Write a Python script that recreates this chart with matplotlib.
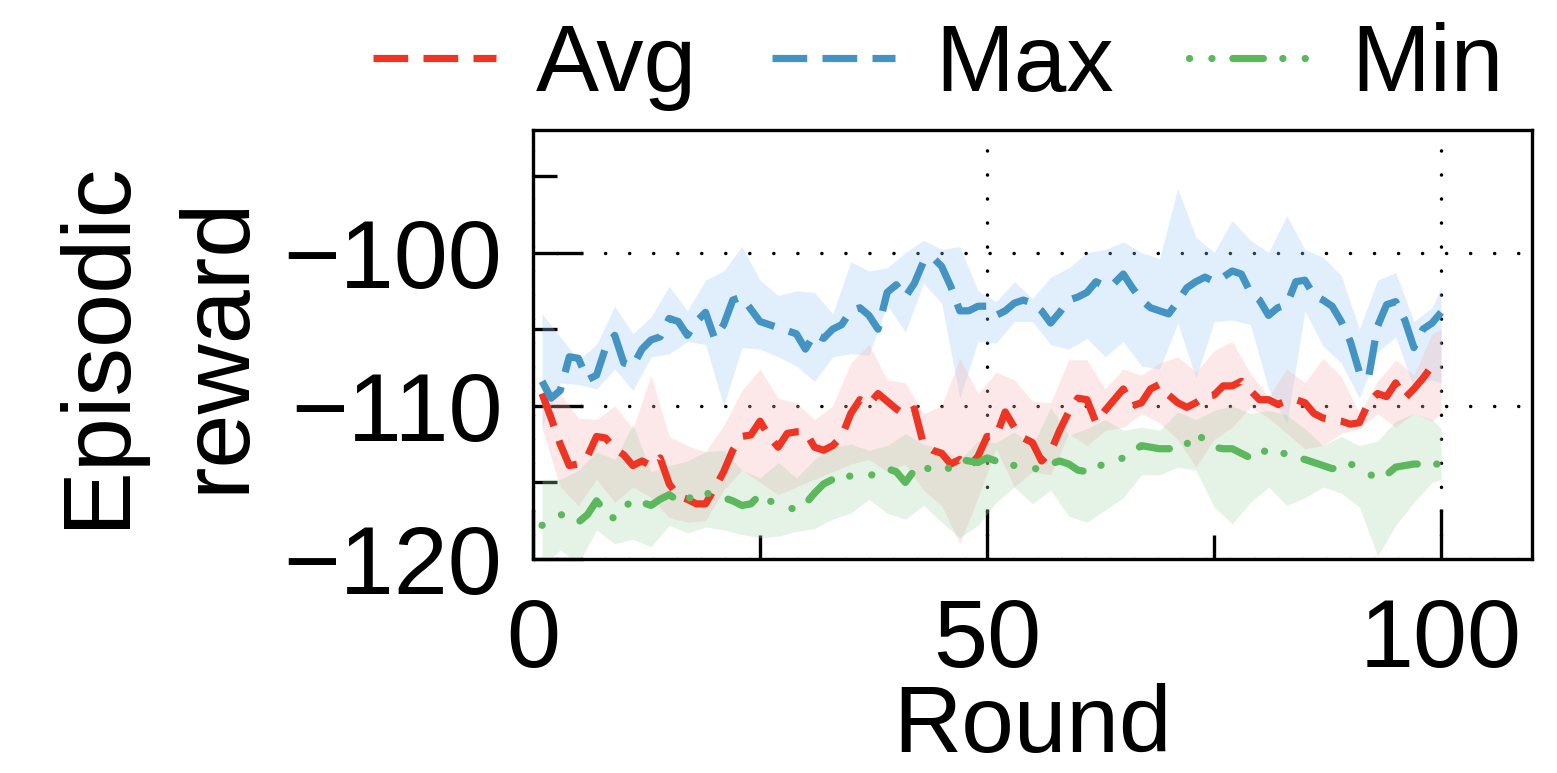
import numpy as np
import matplotlib
matplotlib.use("Agg")
import matplotlib.pyplot as plt

plt.rcParams["font.family"] = ["Liberation Sans", "DejaVu Sans"]
plt.rcParams["lines.scale_dashes"] = False

# Récompense épisodique par round (moyenne, max, min sur les agents).
rounds = np.arange(1, 101)

avg_reward = [
    -109.2, -110.8, -112.5, -113.9, -113.8, -113.3, -112.0, -112.1, -112.8, -113.2,
    -113.9, -113.6, -113.9, -113.4, -115.1, -115.9, -116.1, -116.4, -116.4, -115.4,
    -114.3, -112.9, -112.0, -111.9, -111.0, -112.0, -112.7, -111.8, -111.7, -111.7,
    -112.7, -112.9, -112.6, -112.0, -110.5, -109.6, -109.9, -109.2, -109.7, -110.2,
    -110.6, -110.2, -112.5, -112.9, -113.1, -113.8, -113.5, -114.0, -113.3, -112.0,
    -112.0, -110.4, -111.4, -112.1, -112.4, -113.6, -113.0, -111.6, -110.4, -109.5,
    -109.6, -111.1, -110.3, -109.6, -108.9, -110.0, -109.8, -108.9, -108.6, -109.3,
    -109.8, -110.1, -109.8, -109.4, -109.3, -108.7, -108.7, -108.4, -109.0, -109.6,
    -109.6, -109.9, -109.7, -109.6, -109.8, -110.5, -110.8, -110.9, -111.0, -111.2,
    -111.1, -109.8, -109.2, -109.4, -108.5, -109.5, -108.9, -108.2, -107.4, -107.3,
]

max_reward = [
    -108.4, -109.5, -109.0, -106.8, -106.9, -108.3, -108.0, -106.2, -105.4, -107.2,
    -107.4, -106.3, -105.7, -105.5, -104.3, -104.5, -105.4, -104.5, -103.9, -105.6,
    -104.7, -103.1, -102.9, -103.7, -104.5, -104.7, -104.9, -105.1, -105.3, -106.3,
    -105.3, -105.6, -105.0, -104.7, -103.8, -103.6, -104.1, -105.0, -102.6, -102.1,
    -102.9, -102.0, -100.6, -100.3, -100.9, -102.2, -103.8, -103.8, -103.5, -103.5,
    -104.1, -103.8, -103.3, -103.1, -103.3, -103.8, -104.6, -103.9, -103.1, -102.9,
    -102.6, -101.9, -102.2, -102.0, -101.4, -102.3, -103.1, -103.6, -103.8, -104.0,
    -103.2, -102.3, -101.9, -101.6, -101.9, -101.6, -101.2, -101.4, -102.6, -103.1,
    -104.1, -103.6, -103.4, -101.9, -101.8, -102.8, -103.1, -103.5, -104.5, -105.8,
    -107.8, -108.2, -104.8, -103.4, -103.2, -104.4, -106.2, -105.0, -104.6, -103.9,
]

min_reward = [
    -117.8, -117.5, -117.1, -117.2, -117.6, -117.1, -116.2, -116.9, -117.4, -116.7,
    -116.1, -116.3, -116.5, -116.1, -115.8, -116.2, -116.2, -115.5, -115.7, -115.8,
    -116.0, -116.2, -116.5, -116.4, -115.8, -116.2, -116.4, -116.6, -116.8, -116.4,
    -115.7, -115.1, -114.8, -114.5, -114.6, -114.6, -114.6, -114.3, -114.1, -114.3,
    -115.0, -114.2, -113.9, -114.3, -114.3, -114.0, -113.5, -113.6, -113.7, -113.4,
    -113.6, -113.7, -113.9, -114.1, -114.1, -114.1, -113.8, -113.6, -113.8, -114.2,
    -114.3, -114.1, -113.7, -113.6, -113.4, -113.0, -112.6, -112.7, -112.8, -112.8,
    -112.8, -112.5, -111.7, -112.3, -112.7, -112.8, -112.8, -113.1, -113.4, -113.3,
    -112.7, -112.9, -113.2, -113.4, -113.5, -113.7, -113.9, -114.1, -114.0, -113.8,
    -114.0, -114.4, -114.8, -114.5, -114.0, -113.9, -113.8, -113.8, -113.8, -113.8,
]

# Enveloppes (dispersion entre les graines), échantillonnées tous les 2 rounds.
band_rounds = list(range(1, 100, 2)) + [100]

max_hi = [
    -104.0, -105.5, -107.0, -106.0, -103.5, -105.3, -104.2, -102.2, -103.8, -101.8,
    -101.2, -99.6, -101.8, -102.8, -102.5, -102.6, -104.0, -100.6, -101.2, -101.0,
    -100.0, -99.2, -99.8, -99.6, -102.5, -103.2, -101.9, -103.0, -101.6, -101.0,
    -100.0, -99.8, -99.3, -100.0, -100.4, -95.8, -99.0, -100.0, -97.9, -99.2,
    -100.0, -97.6, -99.8, -100.3, -101.5, -105.0, -101.8, -101.3, -104.5, -103.6,
    -102.3,
]
max_lo = [
    -111.4, -108.5, -108.6, -108.9, -107.6, -109.0, -106.8, -106.6, -105.8, -106.0,
    -110.0, -106.2, -106.3, -106.8, -107.4, -108.4, -106.8, -106.6, -106.7, -103.4,
    -105.2, -102.0, -103.3, -109.5, -105.8, -105.9, -104.5, -104.5, -106.0, -106.3,
    -105.6, -106.8, -105.8, -107.4, -107.6, -104.6, -108.2, -104.5, -104.4, -104.7,
    -108.9, -111.2, -103.8, -106.1, -107.2, -109.5, -106.5, -105.5, -108.8, -108.3,
    -108.5,
]
avg_hi = [
    -108.7, -109.2, -110.8, -110.9, -110.0, -111.5, -108.0, -112.0, -112.6, -113.0,
    -111.3, -109.0, -107.6, -109.5, -109.8, -110.9, -110.0, -107.2, -106.0, -108.3,
    -108.5, -110.5, -110.0, -106.9, -109.2, -107.8, -108.3, -109.7, -109.8, -107.0,
    -107.0, -108.9, -107.6, -108.0, -107.2, -106.8, -107.8, -106.4, -105.8, -107.9,
    -109.4, -107.6, -108.5, -106.9, -108.1, -110.5, -108.4, -107.0, -108.0, -105.3,
    -105.0,
]
avg_lo = [
    -111.5, -115.3, -116.5, -114.8, -116.3, -115.3, -116.0, -117.3, -117.6, -117.5,
    -115.5, -114.2, -115.0, -115.8, -115.3, -114.8, -114.3, -113.8, -113.5, -114.3,
    -113.8, -115.5, -116.5, -119.0, -116.0, -112.8, -115.3, -114.3, -114.5, -111.8,
    -112.6, -111.6, -111.4, -110.5, -111.1, -112.2, -114.0, -112.2, -111.4, -110.1,
    -110.8, -111.8, -112.8, -112.6, -111.8, -111.5, -110.5, -111.4, -110.5, -111.0,
    -110.5,
]
min_hi = [
    -114.8, -114.8, -114.2, -113.0, -113.5, -111.2, -114.3, -113.9, -113.6, -113.0,
    -112.9, -114.2, -114.7, -113.7, -114.7, -113.5, -112.7, -112.5, -112.9, -112.6,
    -111.8, -112.5, -112.8, -113.5, -112.3, -112.4, -111.7, -112.6, -110.1, -111.9,
    -111.5, -110.9, -111.6, -111.4, -111.6, -110.4, -110.9, -110.3, -110.0, -110.5,
    -110.3, -110.6, -111.5, -112.6, -112.0, -112.6, -112.3, -111.0, -110.5, -110.9,
    -111.5,
]
min_lo = [
    -120.5, -119.4, -120.3, -118.1, -119.0, -118.7, -119.2, -117.8, -118.3, -117.9,
    -118.1, -118.4, -118.6, -118.5, -118.2, -118.0, -117.4, -117.0, -116.1, -117.0,
    -117.4, -116.5, -117.6, -118.6, -117.8, -116.3, -115.3, -116.4, -115.5, -117.2,
    -117.6, -116.8, -116.0, -114.5, -114.5, -114.0, -114.2, -116.6, -117.7, -116.3,
    -115.3, -116.5, -116.0, -115.3, -115.7, -116.6, -119.8, -117.8, -116.3, -115.0,
    -114.8,
]

ROUGE = "#ee3524"
BLEU = "#4393c3"
VERT = "#5cb85c"

fig = plt.figure(figsize=(15.57, 7.73), dpi=100)
ax = fig.add_axes([0.3423, 0.2768, 0.6416, 0.555])
ax.set_axisbelow(True)

# Enveloppes translucides
ax.fill_between(band_rounds, max_lo, max_hi, color="#9bcaf5", alpha=0.3, lw=0, zorder=1)
ax.fill_between(band_rounds, avg_lo, avg_hi, color="#f8b6b6", alpha=0.3, lw=0, zorder=1)
ax.fill_between(band_rounds, min_lo, min_hi, color="#acd4af", alpha=0.3, lw=0, zorder=1)

# Courbes
ax.plot(rounds, avg_reward, color=ROUGE, lw=5.2, dashes=(25, 11), label="Avg", zorder=3)
ax.plot(rounds, max_reward, color=BLEU, lw=5.2, dashes=(25, 11), label="Max", zorder=3)
ax.plot(rounds, min_reward, color=VERT, lw=5.2, dashes=(0.1, 16, 0.1, 15, 22, 14),
        dash_capstyle="round", label="Min", zorder=3)

ax.set_xlim(0, 110)
ax.set_ylim(-120, -92)
ax.set_xticks([0, 50, 100])
ax.set_xticks([25, 75], minor=True)
ax.set_yticks([-120, -110, -100])
ax.set_yticks([-115, -105, -95], minor=True)
ax.tick_params(which="both", direction="in", top=False, right=False, width=2.4)
ax.tick_params(axis="y", which="major", length=36, labelsize=70, pad=22)
ax.tick_params(axis="x", which="major", length=36, labelsize=70, pad=27)
ax.tick_params(which="minor", length=17)
for spine in ax.spines.values():
    spine.set_linewidth(2.4)

ax.grid(which="major", color="black", linewidth=2.5, linestyle=(0, (0.1, 17.2)),
        dash_capstyle="round")

ax.set_xlabel("Round", fontsize=68, va="center")
ax.xaxis.set_label_coords(0.5, -0.392)
ax.set_ylabel("Episodic\nreward", fontsize=70, va="center", linespacing=1.44)
ax.yaxis.set_label_coords(-0.375, 0.5)

fig.legend(loc="center", bbox_to_anchor=(0.6027, 0.914), ncol=3, frameon=False,
           fontsize=68, handlelength=1.3, handletextpad=0.42, columnspacing=0.8,
           borderaxespad=0)

fig.savefig("out.png", dpi=100)
